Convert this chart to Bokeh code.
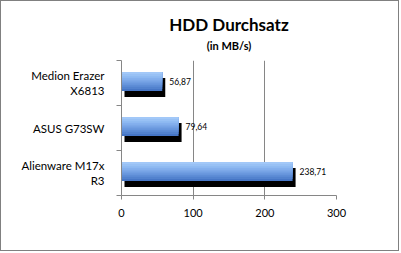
from bokeh.plotting import figure
from bokeh.models import ColumnDataSource, FixedTicker, Title, Range1d
from bokeh.embed import file_html
from bokeh.resources import INLINE

# ---- data ----
devices = ["Medion Erazer X6813", "ASUS G73SW", "Alienware M17x R3"]
tick_labels = ["Medion Erazer\nX6813", "ASUS G73SW", "Alienware M17x\nR3"]
throughput = [56.87, 79.64, 238.71]
x_ticks = [0, 100, 200, 300]
title_text = "HDD Durchsatz"
subtitle_text = "(in MB/s)"

FONT = "Lato"
n = len(devices)
ys = [n - 0.5 - i for i in range(n)]
value_text = [f"{v:.2f}".replace(".", ",") for v in throughput]

p = figure(width=399, height=251, output_backend="svg", toolbar_location=None,
           x_range=Range1d(0, 300), y_range=Range1d(0, n),
           min_border_left=120, min_border_right=64, min_border_top=59, min_border_bottom=57,
           background_fill_color="white", border_fill_color="white")
p.styles = {"border": "1px solid #808080"}
p.outline_line_color = None

# titles
main_title = Title(text=title_text, align="center", offset=-28, text_font=FONT,
                   text_font_size="17px", text_font_style="bold", text_color="black",
                   standoff=0)
try:
    main_title.standoff = -14
except Exception:
    main_title.standoff = 0
p.title = main_title
p.add_layout(Title(text=subtitle_text, align="center", offset=-28, text_font=FONT,
                   text_font_size="11px", text_font_style="bold", text_color="black",
                   standoff=18), "above")

# grid
p.ygrid.grid_line_color = None
p.xgrid.grid_line_color = "#868686"
p.xgrid.ticker = FixedTicker(ticks=x_ticks)

# x axis
p.xaxis.ticker = FixedTicker(ticks=x_ticks)
p.xaxis.axis_line_color = "#868686"
p.xaxis.major_tick_line_color = "#868686"
p.xaxis.major_tick_out = 4
p.xaxis.major_tick_in = 0
p.xaxis.minor_tick_line_color = None
p.xaxis.major_label_text_font = FONT
p.xaxis.major_label_text_font_size = "11px"
p.xaxis.major_label_text_color = "black"
p.xaxis.major_label_standoff = 9

# y axis
p.yaxis.ticker = FixedTicker(ticks=ys, minor_ticks=list(range(n + 1)))
p.yaxis.major_label_overrides = {y: lab for y, lab in zip(ys, tick_labels)}
p.yaxis.axis_line_color = "#868686"
p.yaxis.major_tick_line_color = None
p.yaxis.minor_tick_line_color = "#868686"
p.yaxis.minor_tick_out = 5
p.yaxis.minor_tick_in = 0
p.yaxis.major_label_text_font = FONT
p.yaxis.major_label_text_font_size = "11.5px"
p.yaxis.major_label_text_color = "black"
p.yaxis.major_label_standoff = 11

# shadow
px = 300 / 215.0      # data units per pixel on x
py = 1 / 45.0         # data units per pixel on y
bar_h = 19 * py
shadow = ColumnDataSource(dict(y=[y - 1.5 * py - 3 * py for y in ys],
                               left=[3 * px] * n,
                               right=[v + 3 * px for v in throughput]))
p.hbar(y="y", left="left", right="right", height=bar_h, source=shadow,
       fill_color="black", line_color=None)

# gradient bar: nested layers anchored at the top, dark (full) first, lighter ones shorter
colors = ["#4676C6", "#5282CE", "#5E8DD6", "#6A98DE", "#76A3E5", "#82AEEC",
          "#8DB8F1", "#98C1F5", "#A2C8F8"]
k = len(colors)
tops = [y + 1.5 * py + bar_h / 2 for y in ys]
for i, c in enumerate(colors):
    h = bar_h * (k - i) / k
    src = ColumnDataSource(dict(top=tops, bottom=[t - h for t in tops], right=throughput))
    p.quad(left=0, right="right", top="top", bottom="bottom", source=src,
           fill_color=c, line_color=None)

# value labels
lab = ColumnDataSource(dict(x=throughput, y=[y + 1.5 * py for y in ys], t=value_text))
p.text(x="x", y="y", text="t", source=lab, x_offset=7, text_baseline="middle",
       text_align="left", text_font_size="8.5px", text_color="black",
       text_font={"value": FONT})

open("out.html", "w").write(file_html(p, INLINE))
